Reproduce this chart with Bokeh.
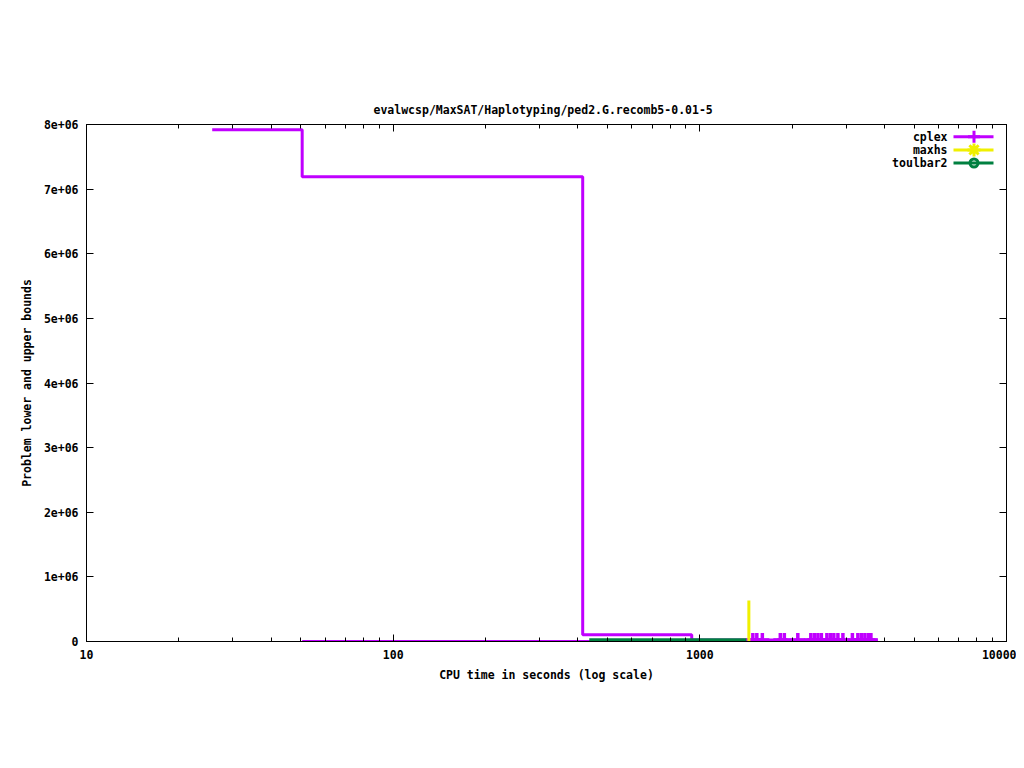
from bokeh.plotting import figure
from bokeh.models import Range1d, FixedTicker, LogAxis, LinearAxis, CustomJSTickFormatter
from bokeh.core.properties import value
from bokeh.embed import file_html
from bokeh.resources import INLINE

# ---------------- data ----------------
title_text = "evalwcsp/MaxSAT/Haplotyping/ped2.G.recomb5-0.01-5"
x_label = "CPU time in seconds (log scale)"
y_label = "Problem lower and upper bounds"

x_major_ticks = [10, 100, 1000, 10000]
x_major_labels = ["10", "100", "1000", "10000"]
x_minor_ticks = [20, 30, 40, 50, 60, 70, 80, 90,
                 200, 300, 400, 500, 600, 700, 800, 900,
                 2000, 3000, 4000, 5000, 6000, 7000, 8000, 9000]
y_ticks = [0, 1e6, 2e6, 3e6, 4e6, 5e6, 6e6, 7e6, 8e6]
y_tick_labels = ["0", "1e+06", "2e+06", "3e+06", "4e+06", "5e+06", "6e+06", "7e+06", "8e+06"]

series_names = ["cplex", "maxhs", "toulbar2"]
series_colors = ["#c000ff", "#f0f000", "#008040"]

# cplex upper bound (step) and lower bound
cplex_ub_time = [25.7, 50.5, 415, 941, 3793]
cplex_ub_value = [7.92e6, 7.19e6, 1.05e5, 2.2e4, 2.2e4]
cplex_lb_time = [50.5, 1420]
cplex_lb_value = [0, 0]
cplex_point_time = [1489, 1534, 1599, 1830, 1886, 2087, 2301, 2363, 2427, 2491,
                    2596, 2665, 2735, 2820, 2928, 3144, 3276, 3363, 3453, 3545, 3613]
cplex_point_value = [2.2e4, 2.2e4, 2.2e4, 2.2e4, 2.2e4, 2.2e4, 2.2e4, 2.2e4, 2.2e4, 2.2e4,
                     2.2e4, 2.2e4, 2.2e4, 2.2e4, 2.2e4, 2.2e4, 2.2e4, 2.2e4, 2.2e4, 2.2e4, 2.2e4]

# maxhs
maxhs_time = [1445, 1445]
maxhs_value = [6.34e5, 0]

# toulbar2
toulbar2_time = [436, 1418]
toulbar2_value = [2.6e4, 2.6e4]

# ---------------- layout ----------------
FONT = "DejaVu Sans Mono"
FS = "11.5px"
X0, X1 = 10, 10000
Y0, Y1 = 0, 8e6
FW, FH = 920, 517
LEFT, TOP = 86, 124

p = figure(x_axis_type="log", x_range=Range1d(X0, X1), y_range=Range1d(Y0, Y1),
           frame_width=FW, frame_height=FH,
           min_border_left=LEFT, min_border_right=10, min_border_top=TOP, min_border_bottom=119,
           output_backend="svg", toolbar_location=None)
p.grid.visible = False
p.outline_line_color = "black"
p.outline_line_width = 1
p.background_fill_color = "white"
p.border_fill_color = "white"

p.title.text = title_text
p.title.align = "left"
p.title.offset = 287
p.title.text_font = FONT
p.title.text_font_size = FS
p.title.text_font_style = "bold"
p.title.text_color = "black"
p.title.standoff = 15

FMT_CODE = "const i = tvals.indexOf(tick); return i >= 0 ? tlabels[i] : '';"
xfmt = CustomJSTickFormatter(args=dict(tvals=x_major_ticks, tlabels=x_major_labels), code=FMT_CODE)
yfmt = CustomJSTickFormatter(args=dict(tvals=y_ticks, tlabels=y_tick_labels), code=FMT_CODE)
blankfmt = CustomJSTickFormatter(code="return '';")


def style_axis(ax):
    ax.axis_line_color = "black"
    ax.major_tick_line_color = "black"
    ax.minor_tick_line_color = "black"
    ax.major_tick_in = 7
    ax.major_tick_out = 0
    ax.minor_tick_in = 4
    ax.minor_tick_out = 0
    ax.major_label_text_font = FONT
    ax.major_label_text_font_size = FS
    ax.major_label_text_font_style = "bold"
    ax.major_label_text_color = "black"
    ax.major_label_standoff = 8
    ax.axis_label_text_font = FONT
    ax.axis_label_text_font_size = FS
    ax.axis_label_text_font_style = "bold"
    ax.axis_label_text_color = "black"


xb = p.xaxis[0]
xb.ticker = FixedTicker(ticks=x_major_ticks, minor_ticks=x_minor_ticks)
xb.formatter = xfmt
xb.axis_label = x_label
style_axis(xb)
xb.axis_label_standoff = 6

yl = p.yaxis[0]
yl.ticker = FixedTicker(ticks=y_ticks)
yl.formatter = yfmt
yl.axis_label = y_label
style_axis(yl)
yl.axis_label_standoff = 7

xt = LogAxis(ticker=FixedTicker(ticks=x_major_ticks, minor_ticks=x_minor_ticks), formatter=blankfmt)
style_axis(xt)
xt.major_label_standoff = 0
p.add_layout(xt, "above")

yr = LinearAxis(ticker=FixedTicker(ticks=y_ticks), formatter=blankfmt)
style_axis(yr)
yr.major_label_standoff = 0
p.add_layout(yr, "right")

LW = 3
# cplex
p.step(cplex_ub_time, cplex_ub_value, mode="after", line_color=series_colors[0], line_width=LW)
p.line(cplex_lb_time, cplex_lb_value, line_color=series_colors[0], line_width=LW)
p.scatter(cplex_point_time, cplex_point_value, marker="cross", size=14,
          line_color=series_colors[0], line_width=3.5)
# maxhs
p.line(maxhs_time, maxhs_value, line_color=series_colors[1], line_width=LW)
# toulbar2
p.line(toulbar2_time, toulbar2_value, line_color=series_colors[2], line_width=LW)

# ---------------- legend (gnuplot style: text, then sample) ----------------
frame_left_page = LEFT
frame_bottom_page = TOP + FH


def px_to_x(page_x):
    return 10 ** (1 + 3 * (page_x - frame_left_page) / FW)


def px_to_y(page_y):
    return (frame_bottom_page - page_y) / FH * (Y1 - Y0)


legend_rows = [136.3, 149.4, 162.5]
legend_markers = ["cross", "asterisk", "circle"]
legend_sizes = [12, 13, 8]
for name, color, mk, sz, row in zip(series_names, series_colors, legend_markers, legend_sizes, legend_rows):
    yy = px_to_y(row)
    p.line([px_to_x(953), px_to_x(993)], [yy, yy], line_color=color, line_width=LW)
    p.scatter([px_to_x(973.5)], [yy], marker=mk, size=sz, line_color=color,
              fill_color=None, line_width=LW)
    p.text([px_to_x(947)], [yy], text=[name], text_align="right", text_baseline="middle",
           text_font=value(FONT), text_font_size=FS, text_font_style="bold", text_color="black")

open("out.html", "w").write(file_html(p, INLINE))
